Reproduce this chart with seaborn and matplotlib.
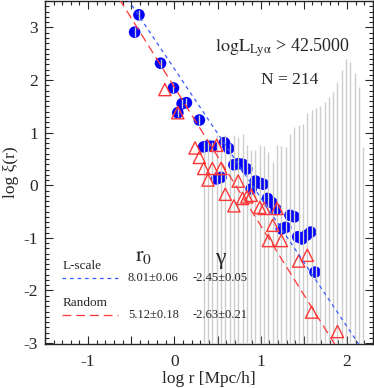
import numpy as np
import seaborn as sns
import matplotlib.pyplot as plt
from matplotlib.ticker import MultipleLocator, FuncFormatter

# blue points (L-scale)
circ_x = [-0.46, -0.41, -0.16, -0.01, 0.04, 0.09, 0.14, 0.29, 0.34, 0.39, 0.44, 0.49, 0.54, 0.58,
          0.63, 0.69, 0.74, 0.79, 0.84, 0.89, 0.94, 0.99, 1.03, 1.08, 1.13, 1.18, 1.24, 1.29,
          1.34, 1.39, 1.43, 1.48, 1.53, 1.58, 1.63]
circ_y = [2.91, 3.24, 2.32, 1.85, 1.38, 1.55, 1.57, 1.24, 0.73, 0.75, 0.74, 0.12, 0.15, 0.81,
          0.70, 0.39, 0.41, 0.40, 0.31, -0.07, 0.08, 0.04, 0.02, -0.25, -0.33, -0.46, -0.83, -0.80,
          -0.57, -0.60, -0.98, -1.02, -0.95, -0.89, -1.65]

# red triangles (Random)
tri_x = [-0.11, 0.04, 0.24, 0.29, 0.34, 0.39, 0.44, 0.49, 0.54, 0.59, 0.69, 0.74, 0.79, 0.84,
         0.89, 0.99, 1.04, 1.09, 1.14, 1.19, 1.24, 1.44, 1.54, 1.59, 1.89]
tri_y = [1.82, 1.38, 0.71, 0.53, 0.32, 0.10, 0.32, 0.76, 0.32, -0.17, -0.39, 0.08, -0.25, -0.22,
         -0.19, -0.42, -0.44, -1.05, -0.76, -0.44, -1.05, -1.44, -1.33, -2.41, -2.78]

# upper ends of the big error bars (they run off the bottom)
bar_x = [0.34, 0.39, 0.44, 0.49, 0.54, 0.59, 0.64, 0.69, 0.74, 0.79, 0.84, 0.89, 0.94, 0.99,
         1.04, 1.09, 1.14, 1.19, 1.24, 1.29, 1.34, 1.39, 1.44, 1.49, 1.54, 1.59, 1.64, 1.69,
         1.74, 1.79, 1.84, 1.89, 1.94, 1.99, 2.04, 2.09, 2.14, 2.19]
bar_top = [0.85, 0.88, 0.82, 0.95, 0.93, 0.95, 0.80, 0.95, 0.92, 0.98, 0.76, 0.67, 0.67, 0.76,
           0.74, 0.63, 0.44, 0.77, 0.74, 0.73, 0.98, 1.11, 1.14, 1.16, 1.38, 1.44, 1.46, 1.50,
           1.59, 1.67, 1.78, 1.97, 2.20, 2.41, 2.35, 2.14, 1.87, 0.72]

# power-law fits
fit_names = ["L-scale", "Random"]
fit_r0 = [8.01, 5.12]
fit_gamma = [-2.45, -2.63]
fit_r0_txt = ["8.01\u00b10.06", "5.12\u00b10.18"]
fit_g_txt = ["-2.45\u00b10.05", "-2.63\u00b10.21"]

sns.set_style("ticks")
plt.rcParams['font.family'] = ['Liberation Serif', 'DejaVu Serif']
plt.rcParams['mathtext.fontset'] = 'stix'
plt.rcParams['axes.unicode_minus'] = False

fig = plt.figure(figsize=(3.74, 3.88), dpi=100)
ax = fig.add_axes([0.120, 0.113, 0.877, 0.884])

blue = '#0000ff'
red = '#ff3636'
grey = '#cdcdcd'

sns.scatterplot(x=circ_x, y=circ_y, ax=ax, marker='o', s=70, color=blue,
                edgecolor='none', zorder=2)
cy = np.array(circ_y[:8])
ax.vlines(circ_x[:8], cy - 0.09, cy + 0.09, color=grey, lw=1.0, zorder=3)
ax.vlines(bar_x, -4, bar_top, color=grey, lw=1.0, zorder=3)
sns.scatterplot(x=tri_x, y=tri_y, ax=ax, marker='^', s=78, facecolors='none',
                edgecolor=red, linewidth=1.0, zorder=4)

rr = np.linspace(-1.5, 2.3, 60)
styles = [dict(color='#3a5cff', linestyle=(0, (3, 3))), dict(color=red, linestyle=(0, (7, 4)))]
for r0, g, st in zip(fit_r0, fit_gamma, styles):
    sns.lineplot(x=rr, y=g * (rr - np.log10(r0)), ax=ax, lw=0.9, zorder=5, **st)

ax.set_xlim(-1.5, 2.3)
ax.set_ylim(-3.02, 3.5)
ax.xaxis.set_major_locator(MultipleLocator(0.5))
ax.xaxis.set_minor_locator(MultipleLocator(0.1))
ax.xaxis.set_major_formatter(FuncFormatter(lambda v, p: f'{v:.0f}' if abs(v - round(v)) < 1e-6 else ''))
ax.yaxis.set_major_locator(MultipleLocator(1))
ax.yaxis.set_minor_locator(MultipleLocator(0.1))
ax.tick_params(which='both', direction='in', top=True, right=True, labelsize=12.5, width=0.8)
ax.tick_params(which='major', length=6)
ax.tick_params(which='minor', length=3)
ax.tick_params(axis='x', pad=7)
ax.tick_params(axis='y', pad=5)
for s in ax.spines.values():
    s.set_linewidth(1.0)

ax.set_xlabel('log r [Mpc/h]', fontsize=12.5, labelpad=1)
ax.set_ylabel('log \u03be(r)', fontsize=12.5, labelpad=3)

ax.text(0.725, 0.863, r'$\mathrm{logL_{Ly\alpha}}$ > 42.5000', transform=ax.transAxes,
        ha='center', va='center', fontsize=13)
ax.text(0.747, 0.770, 'N = 214', transform=ax.transAxes, ha='center', va='center', fontsize=12.5)

ax.text(0.30, 0.256, r'$\mathrm{r}_0$', transform=ax.transAxes, ha='center', va='center', fontsize=16)
ax.text(0.534, 0.250, '\u03b3', transform=ax.transAxes, ha='center', va='center', fontsize=17)
rows = [0.192, 0.085]
for name, rt, gt, st, yy in zip(fit_names, fit_r0_txt, fit_g_txt, styles, rows):
    ax.text(0.055, yy + 0.036, name, transform=ax.transAxes, ha='left', va='center', fontsize=9.5)
    ax.plot([0.052, 0.222], [yy, yy], transform=ax.transAxes, lw=0.9, **st)
    ax.text(0.253, yy, rt, transform=ax.transAxes, ha='left', va='center', fontsize=9)
    ax.text(0.451, yy, gt, transform=ax.transAxes, ha='left', va='center', fontsize=9)

fig.savefig('out.png', dpi=100)
